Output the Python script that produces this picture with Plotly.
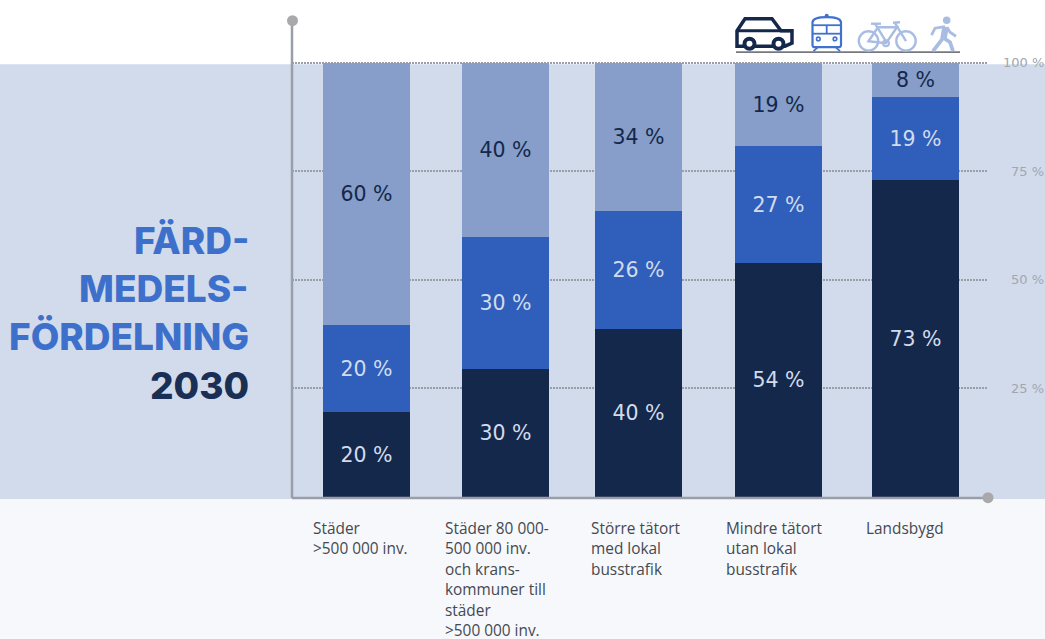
import re
import plotly.graph_objects as go

# ---- data -------------------------------------------------------------
categories = [
    ["Städer", ">500 000 inv."],
    ["Städer 80 000-", "500 000 inv.", "och krans-", "kommuner till", "städer", ">500 000 inv."],
    ["Större tätort", "med lokal", "busstrafik"],
    ["Mindre tätort", "utan lokal", "busstrafik"],
    ["Landsbygd"],
]
car_labels = ["20 %", "30 %", "40 %", "54 %", "73 %"]
transit_labels = ["20 %", "30 %", "26 %", "27 %", "19 %"]
active_labels = ["60 %", "40 %", "34 %", "19 %", "8 %"]
# segment heights as drawn in the picture
car_share = [19.6, 29.5, 38.7, 53.9, 73.0]
transit_share = [20.0, 30.3, 27.1, 26.9, 19.0]
active_share = [60.4, 40.2, 34.2, 19.2, 8.0]
y_ticks = [25, 50, 75, 100]

# ---- layout constants --------------------------------------------------
W, H = 1045, 639
Y_MAX = 102
PL, PR, PB = 292, 987, 497
PT = PB - Y_MAX * 4.345
BAR_CENTRES = [366.5, 505.5, 638.5, 778.5, 915.5]
LABEL_LEFT = [313, 445, 591, 726, 866]
BAR_W = 87
DARK, MID, LIGHT = "#14284B", "#2F5FBB", "#869EC9"
PALE = "#D2DBEC"
ICON_BLUE, ICON_PALE = "#3F72CE", "#A9BDE3"
AXIS = "#9A9EA8"


def px(x):
    return (x - PL) / (PR - PL)


def py(y):
    return (PB - y) / (PB - PT)


fig = go.Figure()
for name, vals, labels, color, tcolor in [
    ("Bil", car_share, car_labels, DARK, PALE),
    ("Kollektivtrafik", transit_share, transit_labels, MID, PALE),
    ("Cykel och gång", active_share, active_labels, LIGHT, DARK),
]:
    fig.add_bar(
        x=BAR_CENTRES, y=vals, width=BAR_W, name=name,
        marker=dict(color=color, line=dict(width=0)),
        text=labels, textposition="inside", insidetextanchor="middle",
        textangle=0, constraintext="none",
        insidetextfont=dict(family="DejaVu Sans", size=20.5, color=tcolor),
        hoverinfo="skip",
    )

shapes = []


def rect(x0, y0, x1, y1, color):
    shapes.append(dict(type="rect", xref="paper", yref="paper", x0=px(x0), x1=px(x1),
                       y0=py(y0), y1=py(y1), fillcolor=color, line_width=0, layer="below"))


rect(0, 0, W, 64, "#FFFFFF")
rect(0, 64, W, 499, PALE)
rect(0, 499, W, H, "#F6F8FC")


def line(x0, y0, x1, y1, color, width):
    shapes.append(dict(type="line", xref="paper", yref="paper", x0=px(x0), x1=px(x1),
                       y0=py(y0), y1=py(y1), line=dict(color=color, width=width), layer="above"))


def dot(cx, cy, r, fill, stroke=None, width=0):
    shapes.append(dict(type="circle", xref="paper", yref="paper",
                       xsizemode="pixel", ysizemode="pixel",
                       xanchor=px(0), yanchor=py(0),
                       x0=cx - r, x1=cx + r, y0=-(cy - r), y1=-(cy + r),
                       fillcolor=fill, line=dict(color=stroke or fill, width=width), layer="above"))


def path(d, stroke, width, fill="rgba(0,0,0,0)"):
    toks = re.findall(r"[MLCZ]|-?[\d.]+", d)
    out, i = [], 0
    for t in toks:
        if t in "MLCZ":
            out.append(t)
            i = 0
        else:
            out.append(t if i % 2 == 0 else str(-float(t)))
            i += 1
    shapes.append(dict(type="path", xref="paper", yref="paper",
                       xsizemode="pixel", ysizemode="pixel",
                       xanchor=px(0), yanchor=py(0),
                       path=" ".join(out), fillcolor=fill,
                       line=dict(color=stroke, width=width), layer="above"))


# axis lines with end dots
line(PL, 20, PL, PB + 1, AXIS, 2.5)
line(PL, PB + 1, 988, PB + 1, AXIS, 2.5)
dot(292.5, 20.5, 5.5, "#A9A9A9")
dot(988, 497.5, 5.5, "#A9A9A9")

# icon baseline
line(736, 52, 960, 52, "#75797F", 1.8)

# car
path("M 737 44 L 737 30.5 L 745 18.5 L 772 18.5 L 781 30.5 L 792 30.5 L 792 43 L 785 46 "
     "L 737 46 Z", DARK, 3.5, "#FFFFFF")
line(737, 30.5, 792, 30.5, DARK, 3)
dot(749.5, 43.5, 5, "#FFFFFF", DARK, 4)
dot(778.5, 43.5, 5, "#FFFFFF", DARK, 4)

# train
path("M 812.5 22 C 813 19 818 17 826.5 17 C 835 17 840.5 19 841 22 L 841 45 "
     "C 841 46.5 840 47 838 47 L 815 47 C 813 47 812.5 46.5 812.5 45 Z", ICON_BLUE, 2.2, "#FFFFFF")
dot(826.7, 15.5, 2, ICON_BLUE)
line(812.5, 25, 841, 25, ICON_BLUE, 1.8)
line(812.5, 33.5, 841, 33.5, ICON_BLUE, 1.8)
line(826.7, 25, 826.7, 33.5, ICON_BLUE, 1.8)
dot(818.3, 38.7, 1.8, "#FFFFFF", ICON_BLUE, 1.6)
dot(835, 38.7, 1.8, "#FFFFFF", ICON_BLUE, 1.6)
line(818, 47, 813.5, 51, ICON_BLUE, 1.8)
line(835.5, 47, 840, 51, ICON_BLUE, 1.8)

# bike
dot(868.5, 40.7, 9.7, "rgba(0,0,0,0)", ICON_PALE, 2.4)
dot(906, 40.7, 9.7, "rgba(0,0,0,0)", ICON_PALE, 2.4)
path("M 868.5 41 L 878 27 L 897 27 L 886 43 Z", ICON_PALE, 2.4)
path("M 875 23.5 L 887 43", ICON_PALE, 2.4)
path("M 871 23.5 L 881 23.5", ICON_PALE, 2.4)
path("M 895 23 L 906 41", ICON_PALE, 2.4)
path("M 893 22.5 L 900 22", ICON_PALE, 2.4)
dot(886, 43, 3, "rgba(0,0,0,0)", ICON_PALE, 2)

# walker
dot(946.7, 20, 3.8, ICON_PALE)
path("M 945.5 26.5 L 943.5 38.5", ICON_PALE, 6.5)
path("M 943 38 L 933 51", ICON_PALE, 3.8)
path("M 944 38 L 950 42 L 953 51", ICON_PALE, 3.8)
path("M 945 26.5 L 935 28 L 931.5 35", ICON_PALE, 2.8)
path("M 947 27 L 950 32 L 956 36", ICON_PALE, 2.8)

annotations = []


def label(x, y, text, size, color, family, anchor="left", weight=400):
    annotations.append(dict(
        xref="paper", yref="paper", x=px(x), y=py(y), text=text,
        showarrow=False, xanchor=anchor, yanchor="middle", align=anchor,
        font=dict(size=size, color=color, family=family, weight=weight)))


# category labels
for left, lines in zip(LABEL_LEFT, categories):
    for i, ln in enumerate(lines):
        label(left - 2, 528.5 + i * 20.5, ln, 15.4, "#46494F", "Open Sans")

# right-hand tick labels
for t in y_ticks:
    annotations.append(dict(xref="paper", yref="y", x=px(1045.5), y=t, text=f"{t} %",
                            showarrow=False, xanchor="right", yanchor="middle",
                            font=dict(size=13, color="#A2A6AE", family="DejaVu Sans")))

# title
TITLE_BLUE = "#3D70CB"
for y, txt, col in [(240, "FÄRD-", TITLE_BLUE), (288, "MEDELS-", TITLE_BLUE),
                    (336, "FÖRDELNING", TITLE_BLUE), (385, "2030", "#1A2F55")]:
    label(251, y, txt, 37, col, "Inter", anchor="right", weight=800)

fig.update_layout(
    width=W, height=H, barmode="stack", showlegend=False, autosize=False,
    margin=dict(l=PL, r=W - PR, t=PT, b=H - PB, pad=0),
    paper_bgcolor="#FFFFFF", plot_bgcolor="rgba(0,0,0,0)",
    bargap=0, shapes=shapes, annotations=annotations,
    xaxis=dict(range=[PL, PR], showgrid=False, zeroline=False, showticklabels=False,
               ticks="", showline=False, fixedrange=True),
    yaxis=dict(range=[0, Y_MAX], tickvals=y_ticks, showticklabels=False, ticks="",
               showgrid=True, gridcolor="#9B9EA6", griddash="1.5px,1.5px", gridwidth=1.5,
               zeroline=False, showline=False, fixedrange=True),
)
fig.write_html("out.html", config={"displayModeBar": False},
               post_script="document.body.style.margin='0';document.body.style.overflow='hidden';")
